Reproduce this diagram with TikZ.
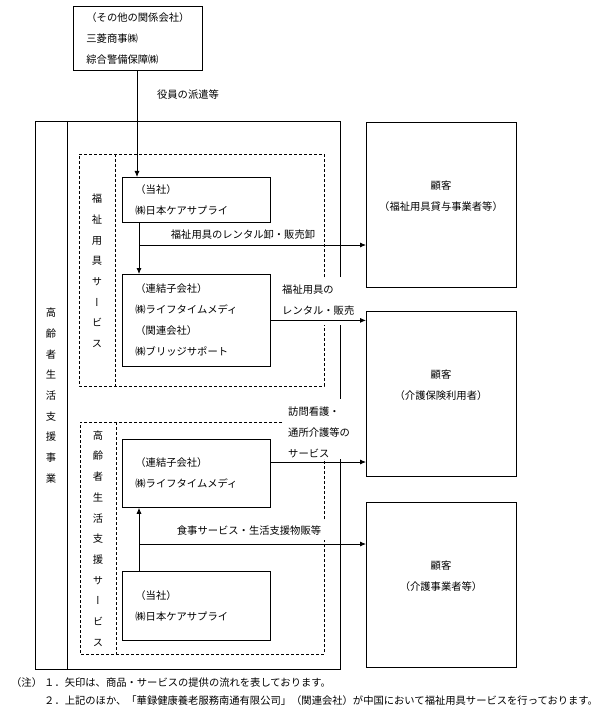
\documentclass[tikz,border=0pt]{standalone}
\usepackage{fontspec}
\setmainfont{Noto Sans CJK JP}
\newfontfamily\jpv[RawFeature=+vert]{Noto Sans CJK JP}
\usetikzlibrary{arrows.meta}
\begin{document}
\begin{tikzpicture}[x=1pt,y=-1pt,
 ln/.style={line width=0.8pt},
 dsh/.style={line width=0.8pt, dash pattern=on 3pt off 2pt},
 arr/.style={line width=0.8pt,-{Latex[length=6pt,width=5pt]}},
 txt/.style={font=\fontsize{10.3}{21}\selectfont, inner sep=0pt},
 tbox/.style={draw, line width=0.8pt, anchor=north west, inner ysep=0pt, align=left, font=\fontsize{10.3}{21}\selectfont},
 cbox/.style={draw, line width=0.8pt, anchor=north west, inner sep=0pt, minimum width=150pt, minimum height=165pt},
 vtxt/.style={font=\jpv\fontsize{10.3}{20.7}\selectfont, align=center, inner sep=0pt}
]
\fill[white] (0,0) rectangle (600,722);
\useasboundingbox (0,0) rectangle (600,722);

% frames
\draw[ln] (340,277) -- (340,121) -- (35,121) -- (35,669) -- (340,669) -- (340,459);
\draw[ln] (340,325) -- (340,399);
\draw[ln] (67,121) -- (67,669);
\draw[dsh] (324,277) -- (324,154) -- (79,154) -- (79,386) -- (324,386) -- (324,325);
\draw[dsh] (115,154) -- (115,386);
\draw[dsh] (282,422) -- (80,422) -- (80,654) -- (324,654) -- (324,540);
\draw[dsh] (324,519) -- (324,459);
\draw[dsh] (116,422) -- (116,654);

% boxes
\node[tbox, text width=103pt, inner xsep=13pt, minimum height=64pt] (top) at (73,6) {（その他の関係会社）\\三菱商事㈱\\綜合警備保障㈱};
\node[tbox, text width=122pt, inner xsep=13pt, minimum height=45pt] (t1) at (122,177) {（当社）\\㈱日本ケアサプライ};
\node[tbox, text width=122pt, inner xsep=13pt, minimum height=92pt] (r1) at (122,274) {（連結子会社）\\㈱ライフタイムメディ\\（関連会社）\\㈱ブリッジサポート};
\node[tbox, text width=122pt, inner xsep=13pt, minimum height=68pt] (r2) at (122,439) {（連結子会社）\\㈱ライフタイムメディ};
\node[tbox, text width=122pt, inner xsep=13pt, minimum height=69pt] (t2) at (122,571) {（当社）\\㈱日本ケアサプライ};

\node[cbox] (c1) at (366,122) {};
\node[cbox] (c2) at (366,311) {};
\node[cbox] (c3) at (366,502) {};
\node[txt, align=center] (c1t) at (441,196.5) {顧客\\（福祉用具貸与事業者等）};
\node[txt, align=center] (c2t) at (441,385.5) {顧客\\（介護保険利用者）};
\node[txt, align=center] (c3t) at (441,576) {顧客\\（介護事業者等）};

% vertical texts
\node[vtxt] (v0) at (51,395.5) {高\\齢\\者\\生\\活\\支\\援\\事\\業};
\node[vtxt] (v1) at (97,271) {福\\祉\\用\\具\\サ\\ー\\ビ\\ス};
\node[vtxt] (v2) at (98,538.5) {高\\齢\\者\\生\\活\\支\\援\\サ\\ー\\ビ\\ス};

% labels
\node[txt] (l0) at (188,95) {役員の派遣等};
\node[txt] (l1) at (243,235) {福祉用具のレンタル卸・販売卸};
\node[txt, align=left, anchor=west] (l2) at (282,300) {福祉用具の\\レンタル・販売};
\node[txt, align=left, anchor=west] (l3) at (288,432) {訪問看護・\\通所介護等の\\サービス};
\node[txt] (l4) at (249,531) {食事サービス・生活支援物販等};

% arrows
\coordinate (xa) at (137,0);
\coordinate (xb) at (139,0);
\coordinate (j1) at (139,245);
\coordinate (j2) at (139,544);
\coordinate (y2) at (0,462);
\draw[arr] (xa |- top.south) -- (xa |- t1.north);
\draw[arr] (xb |- t1.south) -- (xb |- r1.north);
\draw[arr] (j1) -- (j1 -| c1.west);
\draw[arr] (r1.east) -- (r1.east -| c2.west);
\draw[arr] (y2 -| r2.east) -- (y2 -| c2.west);
\draw[arr] (xb |- t2.north) -- (xb |- r2.south);
\draw[arr] (j2) -- (j2 -| c3.west);

% notes
\node[txt, anchor=west] (n0) at (11,683) {（注）};
\node[txt, anchor=west] (n1) at (44,683) {１．矢印は、商品・サービスの提供の流れを表しております。};
\node[txt, anchor=west] (n2) at (44,701) {２．上記のほか、「華録健康養老服務南通有限公司」（関連会社）が中国において福祉用具サービスを行っております。};
\end{tikzpicture}
\end{document}
